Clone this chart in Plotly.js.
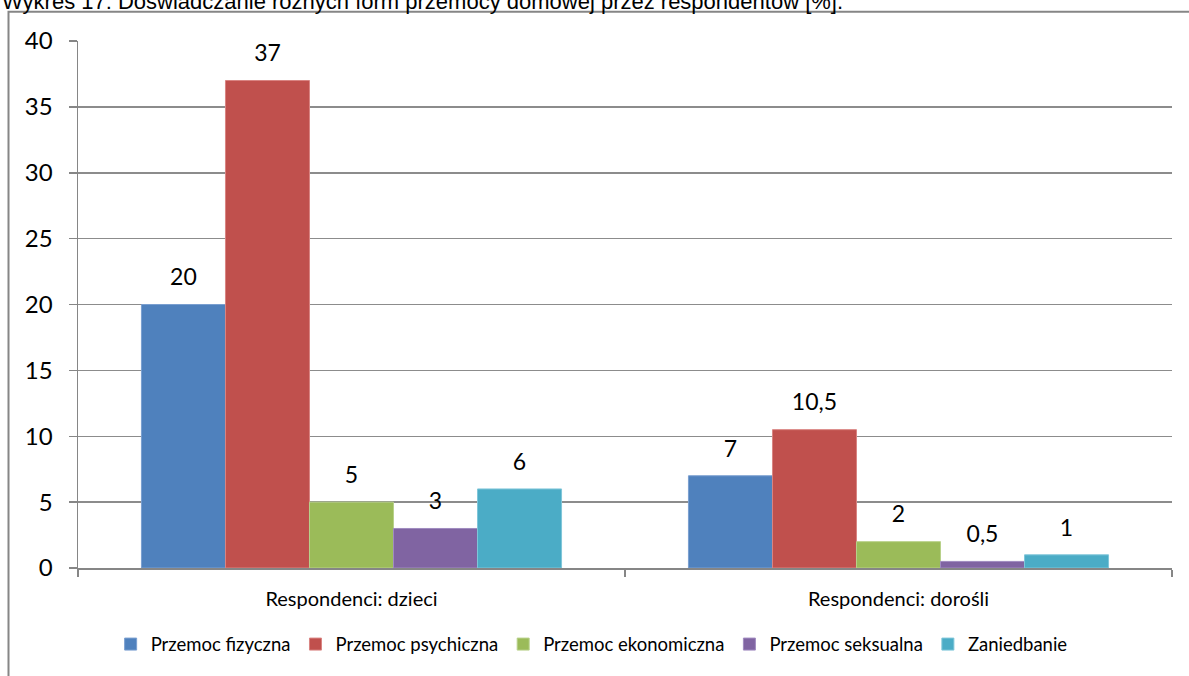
<!DOCTYPE html>
<html>
<head>
<meta charset="utf-8">
<script src="https://cdn.plot.ly/plotly-3.0.1.min.js"></script>
<style>html,body{margin:0;padding:0;background:#fff;}#chart{width:1189px;height:676px;}</style>
</head>
<body>
<div id="chart"></div>
<script>
const categories = ['Respondenci: dzieci', 'Respondenci: dorośli'];
const seriesNames = ['Przemoc fizyczna', 'Przemoc psychiczna', 'Przemoc ekonomiczna', 'Przemoc seksualna', 'Zaniedbanie'];
const fizyczna = [20, 7];
const psychiczna = [37, 10.5];
const ekonomiczna = [5, 2];
const seksualna = [3, 0.5];
const zaniedbanie = [6, 1];
const yTicks = [0, 5, 10, 15, 20, 25, 30, 35, 40];
const chartTitle = 'Wykres 17: Doświadczanie różnych form przemocy domowej przez respondentów [%].';

const seriesValues = [fizyczna, psychiczna, ekonomiczna, seksualna, zaniedbanie];
const colors = ['#4F81BD', '#C0504D', '#9BBB59', '#8064A2', '#4BACC6'];
const edges = ['#7a9fd0', '#d98482', '#b8d18a', '#a08bc0', '#7fc6d9'];
const font = 'Lato, "Open Sans", sans-serif';

const traces = [];
seriesValues.forEach((vals, i) => {
  traces.push({
    type: 'bar', name: seriesNames[i], x: categories, y: vals,
    marker: {color: colors[i], line: {color: edges[i], width: 1}},
    hoverinfo: 'skip', offsetgroup: 'g' + i
  });
});
seriesValues.forEach((vals, i) => {
  traces.push({
    type: 'scatter', mode: 'markers+text', x: categories, y: vals,
    text: vals.map(v => String(v).replace('.', ',')),
    textposition: 'top center',
    textfont: {family: font, size: 23, color: '#000'},
    marker: {size: 20, opacity: 0},
    showlegend: false, hoverinfo: 'skip', cliponaxis: false, offsetgroup: 'g' + i
  });
});

const W = 1189, H = 676, L = 78, R = 17, T = 41, B = 105;
const pw = W - L - R, ph = H - T - B;
const px = v => (v - L) / pw;
const py = v => (H - B - v) / ph;

const layout = {
  width: W, height: H,
  margin: {l: L, r: R, t: T, b: B, pad: 0},
  paper_bgcolor: '#fff', plot_bgcolor: '#fff',
  barmode: 'group', bargap: 0.232, bargroupgap: 0,
  scattermode: 'group', scattergap: 0.232,
  showlegend: true,
  legend: {orientation: 'h', x: 0.4695, xanchor: 'center', y: py(648), yanchor: 'middle',
           font: {family: font, size: 18.5, color: '#000'}, traceorder: 'normal', itemclick: false},
  xaxis: {
    type: 'category', tickson: 'boundaries', ticks: 'outside', ticklen: 7, tickcolor: '#868686', tickwidth: 1.5,
    showline: true, linecolor: '#868686', linewidth: 1.5, showgrid: false,
    tickfont: {family: font, size: 20, color: '#000'}, ticklabelstandoff: 12, fixedrange: true
  },
  yaxis: {
    range: [0, 40], tickvals: yTicks, ticks: 'outside', ticklen: 8, tickcolor: '#868686', tickwidth: 1.5,
    showline: true, linecolor: '#868686', linewidth: 1.5,
    showgrid: true, gridcolor: '#8c8c8c', gridwidth: 1.5, zeroline: false,
    tickfont: {family: font, size: 24, color: '#000'}, ticklabelstandoff: 11, fixedrange: true
  },
  shapes: [{
    type: 'rect', xref: 'paper', yref: 'paper', layer: 'below',
    x0: px(8.5), x1: px(1200), y0: py(690), y1: py(11.5),
    line: {color: '#868686', width: 2}, fillcolor: 'rgba(0,0,0,0)'
  }],
  annotations: [{
    xref: 'paper', yref: 'paper', x: px(0), y: py(16), xanchor: 'left', yanchor: 'bottom',
    text: chartTitle, showarrow: false,
    font: {family: '"Liberation Sans", Arial, sans-serif', size: 22, color: '#000'}
  }]
};

Plotly.newPlot('chart', traces, layout, {displayModeBar: false, staticPlot: true});
</script>
</body>
</html>
